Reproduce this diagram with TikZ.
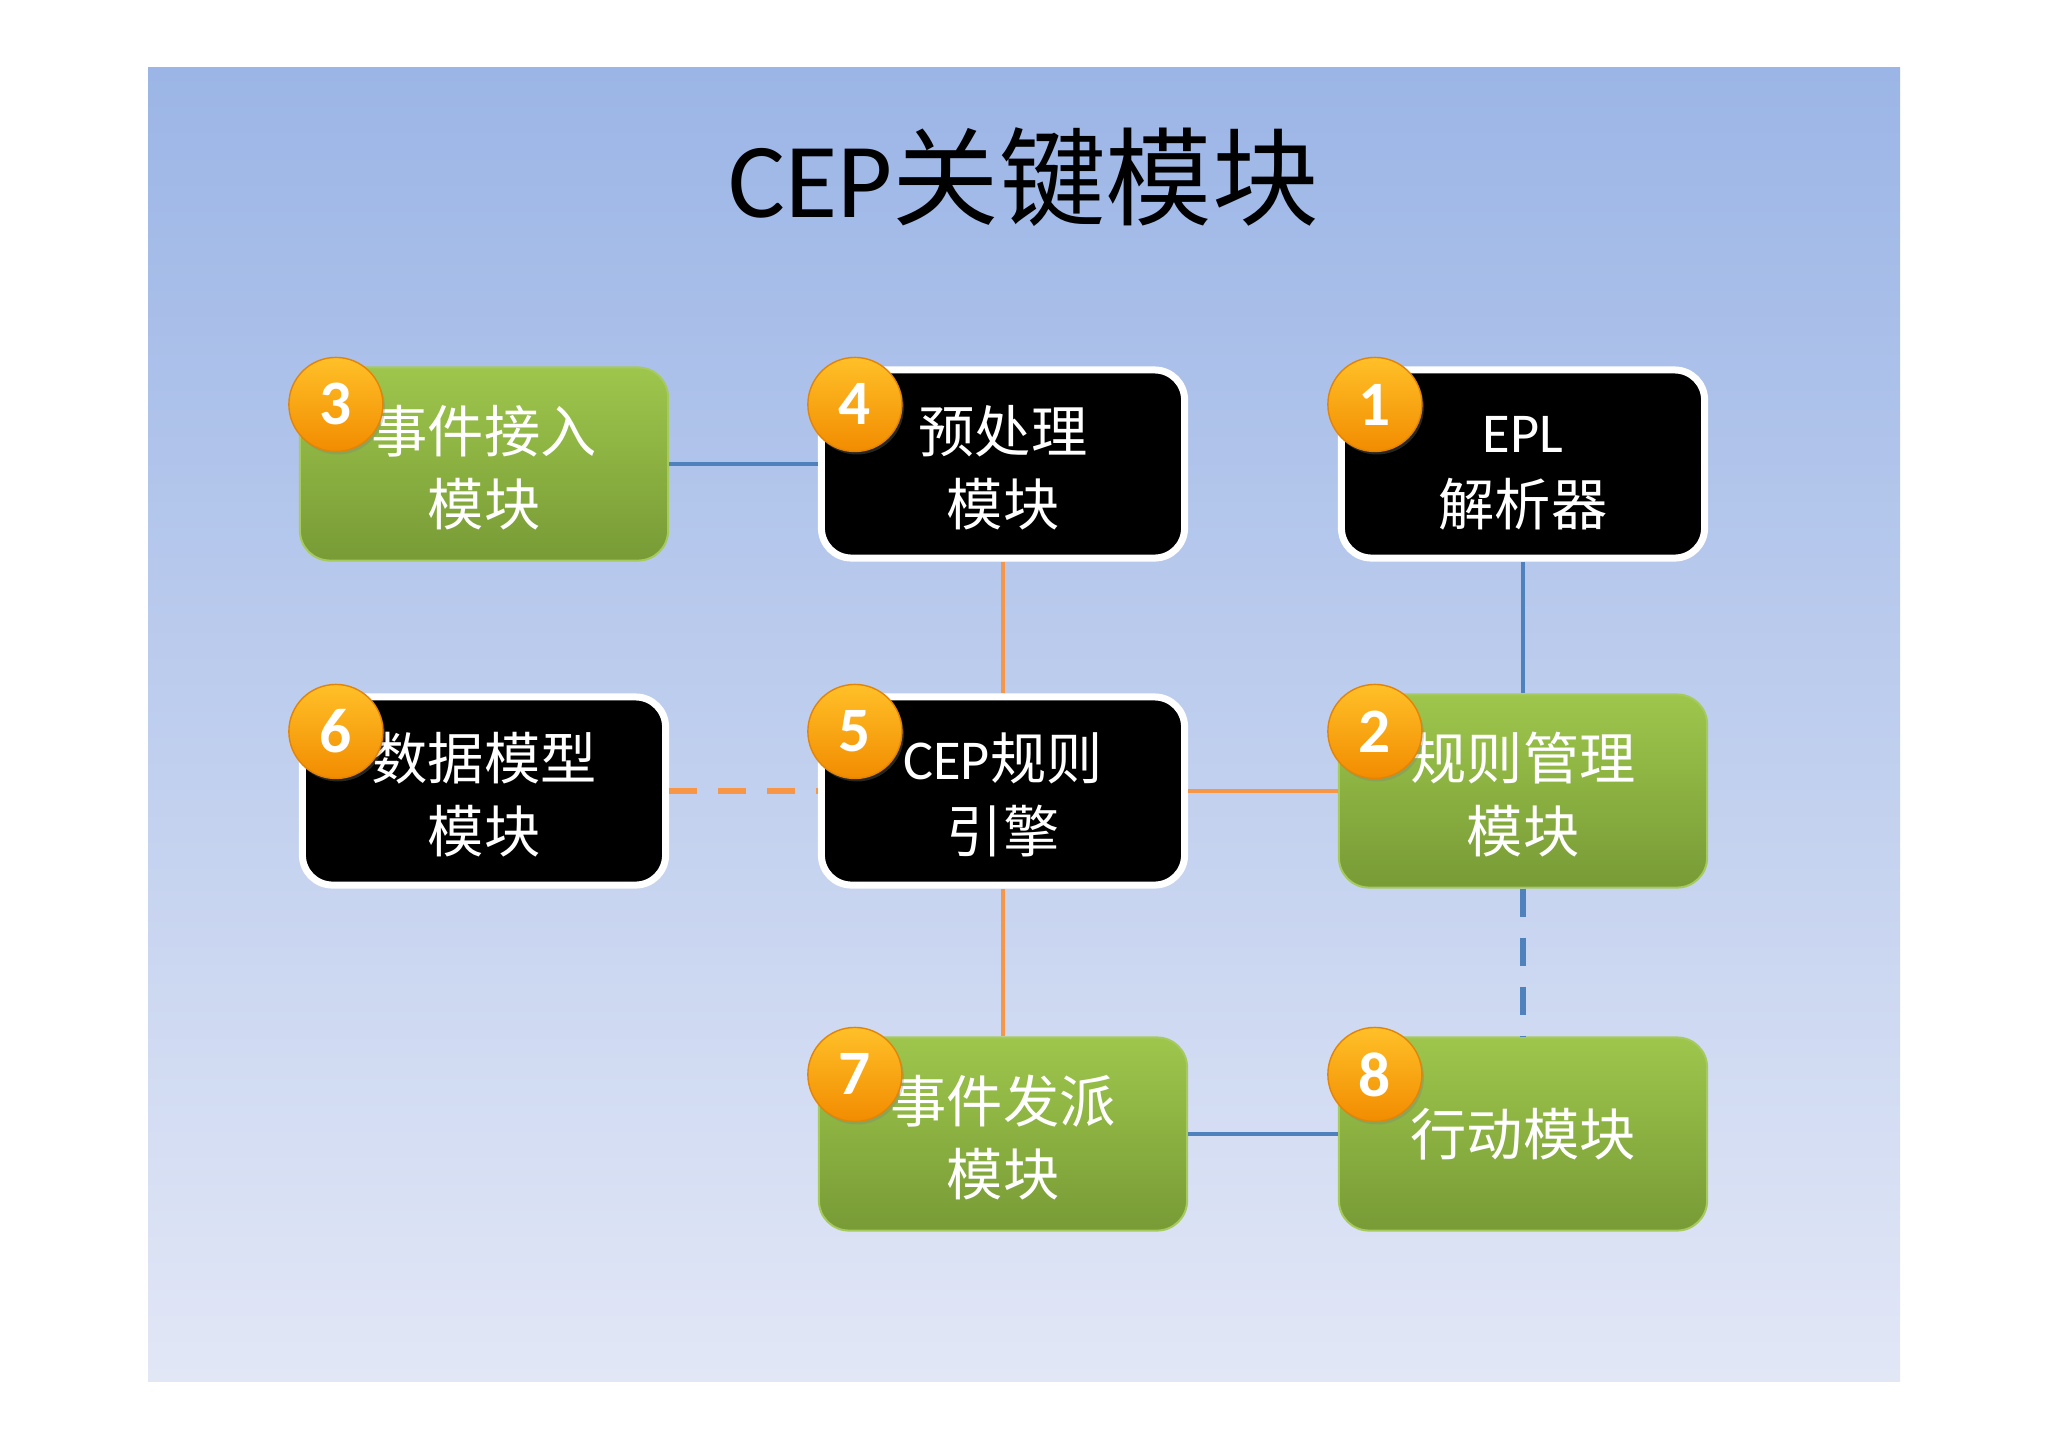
\documentclass[tikz,border=0pt]{standalone}
\usepackage{fontspec}
\setmainfont{Noto Sans CJK SC}
\newfontfamily\latfont{Carlito}
\usepackage{xcolor}
\definecolor{bgtop}{RGB}{155,181,230}
\definecolor{bgbottom}{RGB}{226,231,246}
\definecolor{leaftop}{RGB}{158,198,76}
\definecolor{leafbottom}{RGB}{120,155,54}
\definecolor{leafedge}{RGB}{166,202,94}
\definecolor{linkblue}{HTML}{4F81BD}
\definecolor{linkorange}{HTML}{F79646}
\definecolor{badgetop}{RGB}{255,192,40}
\definecolor{badgebottom}{RGB}{242,140,0}
\definecolor{badgeedge}{RGB}{226,132,8}
\usetikzlibrary{calc,shadows}

\begin{document}
\begin{tikzpicture}[x=0.01cm, y=-0.01cm, font=\fontsize{16pt}{20.5pt}\selectfont,
		modbox/.style={rounded corners=0.3cm, align=center, text=white, inner sep=0pt},
		twoline/.style={text height=1.3cm, text depth=0.08cm},
		darkbox/.style={modbox, fill=black, draw=white, line width=0.07cm,
			minimum width=3.63cm, minimum height=1.88cm},
		greenbox/.style={modbox, top color=leaftop, bottom color=leafbottom, draw=leafedge,
			line width=0.02cm, minimum width=3.68cm, minimum height=1.93cm},
		badge/.style={circle, minimum size=0.94cm, inner sep=0pt, top color=badgetop,
			bottom color=badgebottom, draw=badgeedge, line width=0.4pt, text=white,
			font=\latfont\bfseries\fontsize{18pt}{18pt}\selectfont,
			drop shadow={shadow xshift=0.02cm, shadow yshift=-0.03cm, opacity=0.3}},
		bluelink/.style={linkblue, line width=0.035cm},
		orangelink/.style={linkorange, line width=0.035cm},
		dashlink/.style={line width=0.065cm, dash pattern=on 0.28cm off 0.21cm}]

		% ---------- page and backdrop (1 unit = 1 px of the slide)
		\useasboundingbox (0,0) rectangle (2048,1448);
		\shade[top color=bgtop, bottom color=bgbottom] (148,67) rectangle (1900,1381);

		% ---------- grid of module boxes
		\def\colA{484}
		\def\colB{1003}
		\def\colC{1523}
		\def\rowA{464}
		\def\rowB{791}
		\def\rowC{1134}

		\node[font=\fontsize{30.3pt}{30.3pt}\selectfont] (Title) at (1024,177) {{\latfont CEP}关键模块};

		\node[greenbox, twoline] (EvIn) at (\colA,\rowA) {事件接入\\模块};
		\node[darkbox, twoline] (Prep) at (\colB,\rowA) {预处理\\模块};
		\node[darkbox, twoline] (Epl) at (\colC,\rowA) {{\latfont EPL}\\解析器};
		\node[darkbox, twoline] (DataMdl) at (\colA,\rowB) {数据模型\\模块};
		\node[darkbox, twoline] (Engine) at (\colB,\rowB) {{\latfont CEP}规则\\引擎};
		\node[greenbox, twoline] (RuleMgr) at (\colC,\rowB) {规则管理\\模块};
		\node[greenbox, twoline] (EvOut) at (\colB,\rowC) {事件发派\\模块};
		\node[greenbox] (Action) at (\colC,\rowC) {行动模块};

		% ---------- links between modules
		\draw[bluelink] (EvIn) -- (Prep);
		\draw[orangelink] (Prep) -- (Engine);
		\draw[bluelink] (Epl) -- (RuleMgr);
		\draw[orangelink, dashlink] (DataMdl) -- (Engine);
		\draw[orangelink] (Engine) -- (RuleMgr);
		\draw[orangelink] (Engine) -- (EvOut);
		\draw[bluelink, dashlink] (RuleMgr) -- (Action);
		\draw[bluelink] (EvOut) -- (Action);

		% ---------- numbered badges on the top-left corners
		\node[badge] (Bdg1) at ($(Epl.north west)+(37,38)$) {1};
		\node[badge] (Bdg2) at ($(RuleMgr.north west)+(37,38)$) {2};
		\node[badge] (Bdg3) at ($(EvIn.north west)+(37,38)$) {3};
		\node[badge] (Bdg4) at ($(Prep.north west)+(37,38)$) {4};
		\node[badge] (Bdg5) at ($(Engine.north west)+(37,38)$) {5};
		\node[badge] (Bdg6) at ($(DataMdl.north west)+(37,38)$) {6};
		\node[badge] (Bdg7) at ($(EvOut.north west)+(37,38)$) {7};
		\node[badge] (Bdg8) at ($(Action.north west)+(37,38)$) {8};
	\end{tikzpicture}
\end{document}
